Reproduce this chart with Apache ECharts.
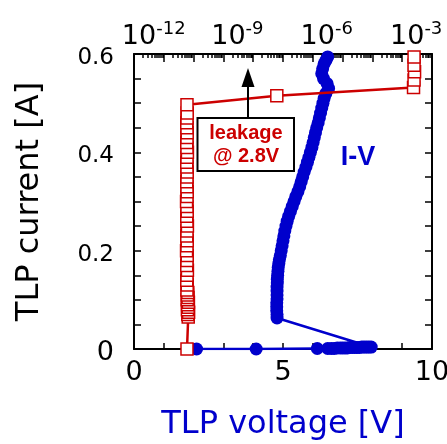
<!DOCTYPE html>
<html>
<head>
<meta charset="utf-8">
<script src="https://cdn.jsdelivr.net/npm/echarts@6/dist/echarts.min.js"></script>
<style>
  html, body { margin: 0; padding: 0; background: #fff; }
  #chart { width: 447px; height: 444px; }
</style>
</head>
<body>
<div id="chart"></div>
<script>
// TLP I-V curve (bottom axis: voltage)
var ivVoltage = [2.10, 4.10, 6.15, 6.50, 6.62, 6.72, 6.82, 6.92, 7.00, 7.08,
  7.16, 7.24, 7.32, 7.40, 7.48, 7.56, 7.64, 7.72, 7.80, 7.88, 7.96,
  4.80, 4.80, 4.79, 4.79, 4.79, 4.80, 4.80, 4.80, 4.80, 4.81,
  4.81, 4.82, 4.83, 4.84, 4.86, 4.88, 4.91,
  4.94, 4.97, 5.00, 5.03, 5.06, 5.10, 5.14, 5.19, 5.25, 5.31,
  5.37, 5.43, 5.50, 5.56, 5.61, 5.66, 5.71, 5.77, 5.82, 5.87,
  5.92, 5.97, 6.01, 6.05, 6.09, 6.13, 6.18, 6.22, 6.26, 6.30,
  6.34, 6.38, 6.44, 6.53, 6.48, 6.36, 6.30, 6.33, 6.38, 6.44, 6.50];
var ivCurrent = [0, 0, 0.001, 0.001, 0.001, 0.001, 0.002, 0.002, 0.002, 0.002,
  0.002, 0.003, 0.003, 0.003, 0.003, 0.003, 0.004, 0.004, 0.004, 0.004, 0.004,
  0.063, 0.070, 0.078, 0.086, 0.094, 0.102, 0.110, 0.118, 0.126, 0.134,
  0.142, 0.150, 0.158, 0.166, 0.174, 0.182, 0.190,
  0.20, 0.21, 0.22, 0.23, 0.24, 0.25, 0.26, 0.27, 0.28, 0.29,
  0.30, 0.31, 0.32, 0.33, 0.34, 0.35, 0.36, 0.37, 0.38, 0.39,
  0.40, 0.41, 0.42, 0.43, 0.44, 0.45, 0.46, 0.47, 0.48, 0.49,
  0.50, 0.51, 0.52, 0.53, 0.54, 0.55, 0.56, 0.57, 0.58, 0.587, 0.594];

// leakage at 2.8V after each pulse (top log axis)
var leakValue = [6.0e-11, 6.6e-11, 6.4e-11, 6.8e-11, 6.2e-11, 6.6e-11, 6.3e-11, 6.7e-11, 6.1e-11, 6.5e-11,
  6.2e-11, 6.4e-11, 6.0e-11,
  6.1e-11, 5.9e-11, 6.0e-11, 6.2e-11, 5.9e-11, 6.0e-11, 6.1e-11, 5.8e-11, 6.0e-11, 6.1e-11,
  5.9e-11, 6.0e-11, 6.2e-11, 6.0e-11, 5.9e-11, 6.1e-11, 6.0e-11, 5.8e-11, 6.0e-11, 6.1e-11,
  6.0e-11, 5.9e-11, 6.0e-11, 6.1e-11, 6.0e-11, 5.9e-11, 6.0e-11, 6.2e-11, 6.0e-11, 5.9e-11,
  6.0e-11, 6.1e-11, 6.0e-11, 5.9e-11, 6.0e-11, 6.1e-11, 6.0e-11,
  6.2e-8, 2.4e-3, 2.5e-3, 2.6e-3, 2.5e-3, 2.5e-3];
var leakCurrent = [0, 0.065, 0.070, 0.075, 0.080, 0.085, 0.090, 0.095, 0.100, 0.105,
  0.110, 0.115, 0.120,
  0.13, 0.14, 0.15, 0.16, 0.17, 0.18, 0.19, 0.20, 0.21, 0.22,
  0.23, 0.24, 0.25, 0.26, 0.27, 0.28, 0.29, 0.30, 0.31, 0.32,
  0.33, 0.34, 0.35, 0.36, 0.37, 0.38, 0.39, 0.40, 0.41, 0.42,
  0.43, 0.44, 0.45, 0.46, 0.47, 0.48, 0.497,
  0.515, 0.532, 0.547, 0.564, 0.577, 0.594];

var voltageLabels = [0, 5, 10];
var currentLabels = [0, 0.2, 0.4, 0.6];
var decadeTicks = [1e-12, 1e-11, 1e-10, 1e-9, 1e-8, 1e-7, 1e-6, 1e-5, 1e-4, 1e-3, 1e-2];
var decadeLabels = [1e-12, 1e-9, 1e-6, 1e-3];

var BLUE = '#0000CC';
var RED = '#CC0000';
var FONT = 'DejaVu Sans';

// 2..9 inside every decade
var minorTicks = [];
decadeTicks.slice(0, -1).forEach(function (d) {
  for (var k = 2; k <= 9; k++) minorTicks.push(d * k);
});

function pairs(xs, ys) {
  return xs.map(function (x, i) { return [x, ys[i]]; });
}

var chart = echarts.init(document.getElementById('chart'));

function line(show) {
  return { show: show, onZero: false, lineStyle: { color: '#000', width: 2 } };
}

chart.setOption({
  animation: false,
  grid: { left: 134, right: 15, top: 54, bottom: 95, outerBoundsMode: 'none' },
  xAxis: [{
    type: 'value',
    position: 'bottom',
    min: 0, max: 10, interval: 1,
    axisLine: line(true),
    axisTick: { inside: true, length: 6, lineStyle: { color: '#000', width: 1.5 } },
    axisLabel: {
      customValues: voltageLabels,
      margin: 10,
      fontSize: 27, fontFamily: FONT, color: '#000'
    },
    splitLine: { show: false },
    name: 'TLP voltage [V]',
    nameLocation: 'middle',
    nameGap: 60,
    nameTextStyle: { fontSize: 32, fontFamily: FONT, color: BLUE }
  }, {
    type: 'log',
    position: 'top',
    logBase: 10,
    min: 1e-12, max: 1e-2,
    axisLine: line(true),
    axisTick: { inside: true, length: 8, customValues: decadeTicks, lineStyle: { color: '#000', width: 1.5 } },
    axisLabel: {
      customValues: decadeLabels,
      margin: 4,
      fontSize: 27, fontFamily: FONT, color: '#000',
      formatter: function (v) {
        var s = String(Math.round(Math.log(v) / Math.LN10));
        return '{gap| }{pad|' + s + '}{base|10}{sup|' + s + '}';
      },
      rich: {
        gap: { width: 10, fontSize: 10 },
        base: { fontSize: 27, fontFamily: FONT, lineHeight: 30, verticalAlign: 'bottom' },
        sup: { fontSize: 18, fontFamily: FONT, lineHeight: 12, verticalAlign: 'top' },
        pad: { fontSize: 18, fontFamily: FONT, lineHeight: 12, verticalAlign: 'top', color: 'rgba(0,0,0,0)' }
      }
    },
    splitLine: { show: false }
  }, {
    type: 'log',
    position: 'top',
    logBase: 10,
    min: 1e-12, max: 1e-2,
    axisLine: line(false),
    axisTick: { inside: true, length: 4, customValues: minorTicks, lineStyle: { color: '#000', width: 1.5 } },
    axisLabel: { show: false },
    splitLine: { show: false }
  }],
  yAxis: [{
    type: 'value',
    position: 'left',
    min: 0, max: 0.6, interval: 0.05,
    axisLine: line(true),
    axisTick: { inside: true, length: 7, lineStyle: { color: '#000', width: 1.5 } },
    axisLabel: {
      customValues: currentLabels,
      margin: 20,
      padding: [8, 0, 0, 0],
      fontSize: 23, fontFamily: FONT, color: '#000',
      formatter: function (v) {
        return v === 0 ? '{big|0}' : v.toFixed(1);
      },
      rich: { big: { fontSize: 27, fontFamily: FONT } }
    },
    splitLine: { show: false },
    name: 'TLP current [A]',
    nameLocation: 'middle',
    nameGap: 88,
    nameTextStyle: { fontSize: 32, fontFamily: FONT, color: '#000' }
  }, {
    type: 'value',
    position: 'right',
    min: 0, max: 0.6, interval: 0.05,
    axisLine: line(true),
    axisTick: { inside: true, length: 7, lineStyle: { color: '#000', width: 1.5 } },
    axisLabel: { show: false },
    splitLine: { show: false }
  }],
  series: [{
    name: 'I-V',
    type: 'line',
    xAxisIndex: 0,
    yAxisIndex: 0,
    data: pairs(ivVoltage, ivCurrent),
    symbol: 'circle',
    symbolSize: 13,
    itemStyle: { color: BLUE },
    lineStyle: { color: BLUE, width: 2.5 },
    z: 2
  }, {
    name: 'leakage',
    type: 'line',
    xAxisIndex: 1,
    yAxisIndex: 0,
    data: pairs(leakValue, leakCurrent),
    symbol: 'rect',
    symbolSize: 12,
    itemStyle: { color: '#fff', borderColor: RED, borderWidth: 1.5 },
    lineStyle: { color: RED, width: 2.5 },
    z: 3
  }],
  graphic: [{
    type: 'rect',
    shape: { x: 197.5, y: 118, width: 96.5, height: 53 },
    style: { fill: '#fff', stroke: '#000', lineWidth: 2 },
    z: 10
  }, {
    type: 'text',
    x: 246, y: 144.5,
    style: {
      text: 'leakage\n@ 2.8V',
      fill: RED,
      font: 'bold 20px "Liberation Sans"',
      lineHeight: 23,
      align: 'center',
      verticalAlign: 'middle'
    },
    z: 11
  }, {
    type: 'line',
    shape: { x1: 248, y1: 118, x2: 248, y2: 84 },
    style: { stroke: '#000', lineWidth: 2 },
    z: 10
  }, {
    type: 'polygon',
    shape: { points: [[241.5, 87], [254.5, 87], [248, 68]] },
    style: { fill: '#000' },
    z: 10
  }, {
    type: 'text',
    x: 358, y: 158,
    style: {
      text: 'I-V',
      fill: BLUE,
      font: 'bold 27px "Liberation Sans"',
      align: 'center',
      verticalAlign: 'middle'
    },
    z: 10
  }]
});
</script>
</body>
</html>
